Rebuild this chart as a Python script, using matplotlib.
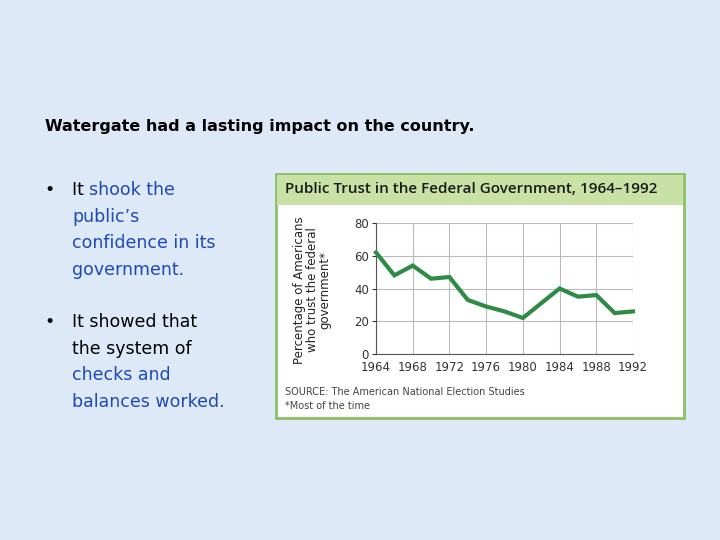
import matplotlib
matplotlib.use("Agg")
import matplotlib.pyplot as plt
from matplotlib.patches import Rectangle

years = [1964, 1966, 1968, 1970, 1972, 1974, 1976, 1978, 1980, 1982, 1984, 1986, 1988, 1990, 1992]
trust = [62, 48, 54, 46, 47, 33, 29, 26, 22, 31, 40, 35, 36, 25, 26]
xticks = [1964, 1968, 1972, 1976, 1980, 1984, 1988, 1992]
yticks = [0, 20, 40, 60, 80]

W, H = 720, 540
fig = plt.figure(figsize=(7.2, 5.4), dpi=100)
fig.patch.set_facecolor("#dde9f7")

def fx(px): return px / W
def fy(py): return 1 - py / H

fig.text(fx(45), fy(126), "Watergate had a lasting impact on the country.", fontsize=11.5,
         fontweight="bold", va="center", ha="left", family="DejaVu Sans")

blue = "#1f48b8"
lines1 = [[("It ", "black"), ("shook the", blue)], [("public’s", blue)],
          [("confidence in its", blue)], [("government.", blue)]]
lines2 = [[("It showed that", "black")], [("the system of", "black")],
          [("checks and", blue)], [("balances worked.", blue)]]

def draw_lines(lines, y0):
    fig.text(fx(44), fy(y0), "•", fontsize=12.5, va="center", ha="left")
    for i, parts in enumerate(lines):
        y = y0 + i * 26.7
        x = 72
        for txt, col in parts:
            t = fig.text(fx(x), fy(y), txt, fontsize=12.5, color=col, va="center", ha="left")
            fig.canvas.draw()
            x += t.get_window_extent().width
draw_lines(lines1, 190)
draw_lines(lines2, 322)

fig.patches.append(Rectangle((fx(276), fy(418)), fx(684 - 276), (418 - 174) / H,
                             transform=fig.transFigure, facecolor="white",
                             edgecolor="#8cc063", lw=2, zorder=-2))
fig.patches.append(Rectangle((fx(277), fy(205)), fx(683 - 277), (205 - 175) / H,
                             transform=fig.transFigure, facecolor="#c8e2a6",
                             edgecolor="none", zorder=-1))
fig.text(fx(285), fy(189), "Public Trust in the Federal Government, 1964–1992",
         fontsize=11, va="center", ha="left", color="#1a1a1a", family="Open Sans", fontweight="semibold")
fig.text(fx(285), fy(392), "SOURCE: The American National Election Studies",
         fontsize=7, va="center", ha="left", color="#444444")
fig.text(fx(285), fy(406), "*Most of the time", fontsize=7, va="center", ha="left", color="#444444")
fig.text(fx(312), fy(290), "Percentage of Americans\nwho trust the federal\ngovernment*",
         rotation=90, fontsize=8.5, va="center", ha="center", linespacing=0.95, color="#222222")

ax = fig.add_axes([fx(376), fy(354), fx(633 - 376), (354 - 223) / H])
ax.set_facecolor("white")
ax.plot(years, trust, color="#2e8b46", lw=3, solid_joinstyle="miter", zorder=3, clip_on=False)
ax.set_xlim(1964, 1992)
ax.set_ylim(0, 80)
ax.set_xticks(xticks)
ax.set_yticks(yticks)
ax.grid(True, color="#bbbbbb", lw=0.8)
for s in ["top", "right"]:
    ax.spines[s].set_visible(False)
for s in ["left", "bottom"]:
    ax.spines[s].set_color("#555555")
ax.tick_params(labelsize=8.5, colors="#333333", length=3, pad=2)
ax.tick_params(axis="x", length=0, pad=5)

fig.savefig("out.png", dpi=100, facecolor=fig.get_facecolor())
